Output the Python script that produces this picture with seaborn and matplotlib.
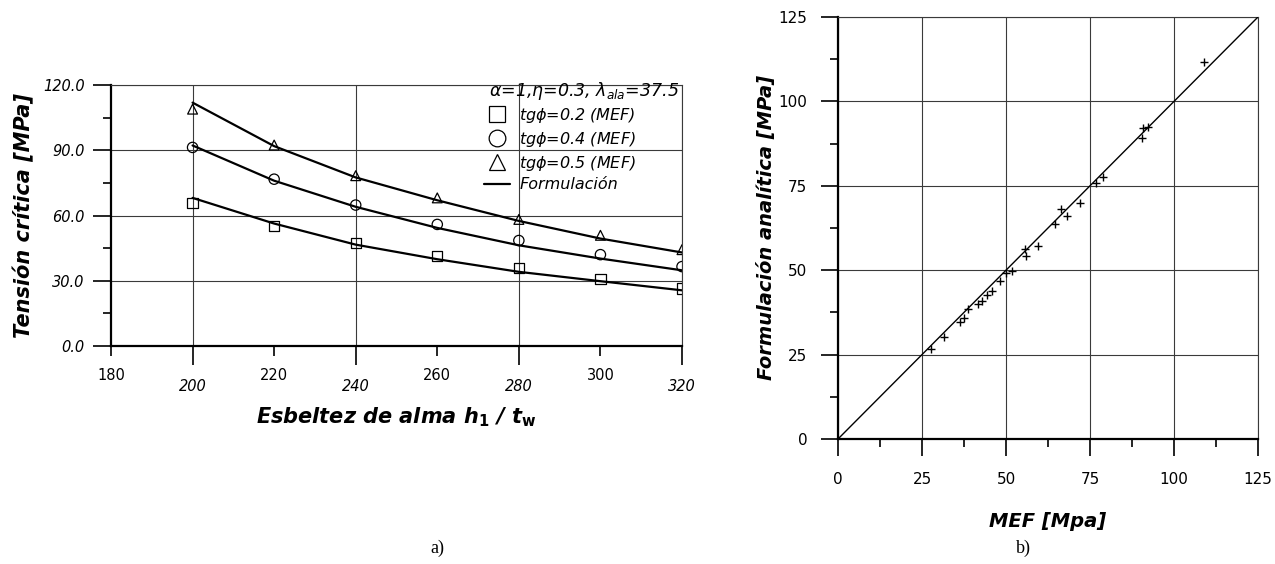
import numpy as np
import pandas as pd
import matplotlib
matplotlib.use("Agg")
import matplotlib.pyplot as plt
from matplotlib.lines import Line2D
from matplotlib.ticker import MultipleLocator, FixedLocator, FormatStrFormatter
import seaborn as sns

# ---------------- data ----------------
esbeltez = [200, 220, 240, 260, 280, 300, 320]
mef_tg02 = [65.8, 55.2, 47.4, 41.3, 35.8, 30.8, 26.5]
mef_tg04 = [91.3, 76.7, 64.8, 55.9, 48.5, 42.0, 36.5]
mef_tg05 = [108.9, 92.4, 78.3, 68.1, 58.2, 50.9, 44.3]
form_tg02 = [68.1, 56.3, 46.6, 39.9, 34.1, 29.8, 25.6]
form_tg04 = [92.2, 76.0, 64.0, 54.3, 46.3, 40.2, 34.8]
form_tg05 = [111.9, 91.9, 77.5, 67.0, 57.5, 49.4, 43.0]

mef_b = [27.8, 31.5, 36.2, 37.4, 38.7, 41.7, 42.9, 44.4, 45.8, 48.1, 50.1, 51.9,
         55.7, 56.0, 59.5, 64.5, 66.3, 68.2, 72.1, 76.9, 78.9, 90.6, 90.8, 92.3, 108.8]
form_b = [26.7, 30.2, 34.7, 35.9, 38.5, 40.1, 40.8, 42.7, 43.8, 46.8, 49.3, 49.8,
          56.2, 54.3, 57.3, 63.7, 68.1, 66.2, 70.0, 75.9, 77.7, 89.3, 92.0, 92.5, 111.8]
diag = [0, 125]

legend_labels = [r"tg$\phi$=0.2 (MEF)", r"tg$\phi$=0.4 (MEF)", r"tg$\phi$=0.5 (MEF)", "Formulación"]

# ---------------- style ----------------
sns.set_theme(style="white")
plt.rcParams["font.family"] = ["DejaVu Sans"]
plt.rcParams["mathtext.fontset"] = "dejavusans"
for k in ["text.color", "axes.labelcolor", "xtick.color", "ytick.color"]:
    plt.rcParams[k] = "black"

W, H = 1275, 564
fig = plt.figure(figsize=(W / 100, H / 100), dpi=100)
fig.patch.set_facecolor("white")

def px_axes(l, t, r, b):
    return fig.add_axes([l / W, 1 - b / H, (r - l) / W, (b - t) / H])

grid_kw = dict(color="#3a3a3a", lw=0.8)

# ================= a) =================
ax = px_axes(111, 85, 682, 346)
ax.set_xlim(180, 320)
ax.set_ylim(0, 120)

df_a = pd.DataFrame({"x": esbeltez,
                     "m02": mef_tg02, "m04": mef_tg04, "m05": mef_tg05,
                     "f02": form_tg02, "f04": form_tg04, "f05": form_tg05})

for col in ["f02", "f04", "f05"]:
    sns.lineplot(data=df_a, x="x", y=col, ax=ax, color="black", lw=1.6, zorder=3)
for col, mk, sz in [("m02", "s", 55), ("m04", "o", 55), ("m05", "^", 50)]:
    sns.scatterplot(data=df_a, x="x", y=col, ax=ax, marker=mk, s=sz, zorder=4)
    coll = ax.collections[-1]
    coll.set_facecolor("none")
    coll.set_edgecolor("black")
    coll.set_linewidth(0.9)

ax.xaxis.set_major_locator(FixedLocator([200, 240, 280, 320]))
ax.xaxis.set_minor_locator(FixedLocator([180, 220, 260, 300]))
ax.xaxis.set_major_formatter(FormatStrFormatter("%d"))
ax.xaxis.set_minor_formatter(FormatStrFormatter("%d"))
ax.yaxis.set_major_locator(MultipleLocator(30))
ax.yaxis.set_minor_locator(MultipleLocator(15))
ax.yaxis.set_major_formatter(FormatStrFormatter("%.1f"))

ax.tick_params(axis="x", which="major", direction="out", length=14, width=1.2,
               pad=10, labelsize=10.5, bottom=True, color="black")
ax.tick_params(axis="x", which="minor", direction="out", length=7, width=1.2,
               pad=9, labelsize=10.5, bottom=True, color="black")
ax.tick_params(axis="y", which="major", direction="out", length=13, width=1.2,
               pad=6, labelsize=10.5, left=True, color="black")
ax.tick_params(axis="y", which="minor", direction="out", length=6, width=1.2,
               left=True, color="black")
for lab in ax.get_xticklabels(which="major"):
    lab.set_style("italic")
for lab in ax.get_yticklabels():
    lab.set_style("italic")

ax.grid(True, which="major", **grid_kw)
for side in ["left", "bottom"]:
    ax.spines[side].set_color("black")
    ax.spines[side].set_linewidth(1.6)
for side in ["top", "right"]:
    ax.spines[side].set_color("#3a3a3a")
    ax.spines[side].set_linewidth(0.8)

ax.set_xlabel(r"Esbeltez de alma h$_\mathbf{1}$ / t$_\mathbf{w}$",
              fontsize=15, fontweight="bold", style="italic", labelpad=8)
ax.set_ylabel("Tensión crítica [MPa]", fontsize=15, fontweight="bold",
              style="italic", labelpad=6)

ax.text(489 / W, 1 - 91 / H, r"$\alpha$=1,$\eta$=0.3, $\lambda_{ala}$=37.5",
        transform=fig.transFigure, fontsize=12.5, style="italic",
        ha="left", va="center")

handles = [
    Line2D([], [], ls="none", marker="s", ms=12, mfc="none", mec="black", mew=0.9),
    Line2D([], [], ls="none", marker="o", ms=12, mfc="none", mec="black", mew=0.9),
    Line2D([], [], ls="none", marker="^", ms=12, mfc="none", mec="black", mew=0.9),
    Line2D([], [], color="black", lw=1.6),
]
leg = ax.legend(handles, legend_labels, loc="upper left",
                bbox_to_anchor=(484 / W, 1 - 106 / H), bbox_transform=fig.transFigure,
                frameon=False, fontsize=11.5, handlelength=1.6, handletextpad=0.6,
                labelspacing=0.3, borderpad=0, borderaxespad=0)
for t in leg.get_texts():
    t.set_style("italic")

fig.text(437 / W, 1 - 548 / H, "a)", fontsize=13, family="Liberation Serif",
         ha="center", va="center")

# ================= b) =================
bx = px_axes(838, 17, 1258, 439)
bx.set_xlim(0, 125)
bx.set_ylim(0, 125)

df_b = pd.DataFrame({"mef": mef_b, "form": form_b})
df_d = pd.DataFrame({"x": diag, "y": diag})
sns.lineplot(data=df_d, x="x", y="y", ax=bx, color="black", lw=1.0, zorder=3)
sns.scatterplot(data=df_b, x="mef", y="form", ax=bx, marker="+", s=40,
                color="black", linewidth=1.0, zorder=4)

bx.xaxis.set_major_locator(MultipleLocator(25))
bx.xaxis.set_minor_locator(MultipleLocator(12.5))
bx.yaxis.set_major_locator(MultipleLocator(25))
bx.yaxis.set_minor_locator(MultipleLocator(12.5))
bx.xaxis.set_major_formatter(FormatStrFormatter("%d"))
bx.yaxis.set_major_formatter(FormatStrFormatter("%d"))
bx.tick_params(axis="x", which="major", direction="out", length=12, width=1.2,
               pad=12, labelsize=11, bottom=True, color="black")
bx.tick_params(axis="x", which="minor", direction="out", length=6, width=1.2,
               bottom=True, color="black")
bx.tick_params(axis="y", which="major", direction="out", length=12, width=1.2,
               pad=10, labelsize=11, left=True, color="black")
bx.tick_params(axis="y", which="minor", direction="out", length=6, width=1.2,
               left=True, color="black")

bx.grid(True, which="major", **grid_kw)
for side in ["left", "bottom"]:
    bx.spines[side].set_color("black")
    bx.spines[side].set_linewidth(1.6)
for side in ["top", "right"]:
    bx.spines[side].set_color("#3a3a3a")
    bx.spines[side].set_linewidth(0.8)

bx.set_xlabel("MEF [Mpa]", fontsize=14, fontweight="bold", style="italic", labelpad=18)
bx.set_ylabel("Formulación analítica [MPa]", fontsize=14, fontweight="bold",
              style="italic", labelpad=2)

fig.text(1023 / W, 1 - 548 / H, "b)", fontsize=13, family="Liberation Serif",
         ha="center", va="center")

fig.savefig("out.png", dpi=100, facecolor="white")
